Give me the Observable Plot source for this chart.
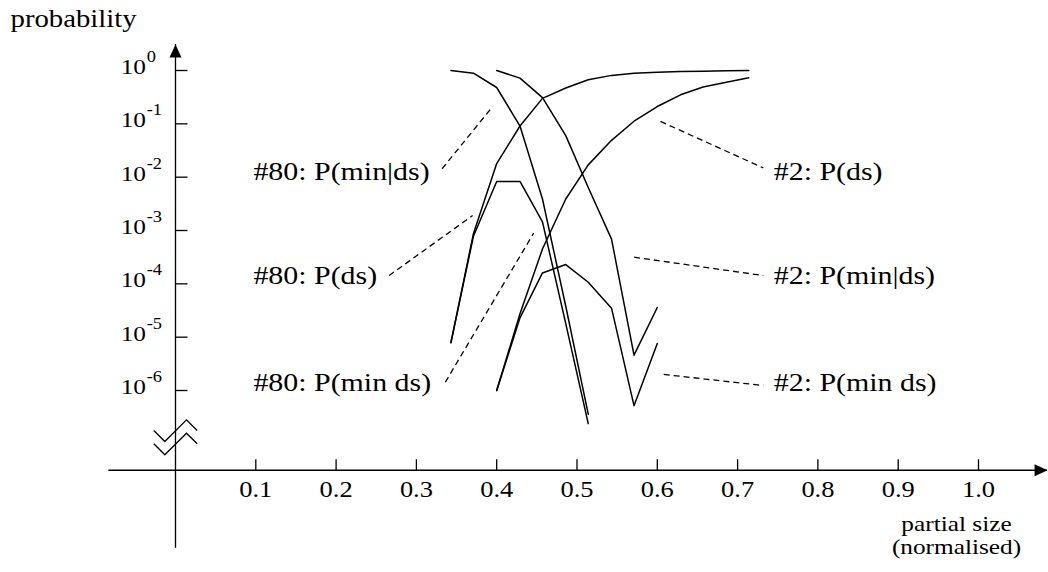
<!DOCTYPE html>
<html>
<head>
<meta charset="utf-8">
<script src="https://cdn.jsdelivr.net/npm/d3@7"></script>
<script src="https://cdn.jsdelivr.net/npm/@observablehq/plot@0.6"></script>
<style>
  html, body { margin: 0; padding: 0; background: #fff; }
  #chart svg { display: block; }
</style>
</head>
<body>
<div id="chart"></div>
<script>
// ---------- data ----------
const partialSize = [0.343, 0.371, 0.400, 0.429, 0.457, 0.486, 0.514, 0.543, 0.571, 0.600, 0.629, 0.657, 0.686, 0.714];

// run #80 (starts at partial size 0.343)
const p80_minGivenDs = [1.0, 0.89, 0.48, 0.091, 3.9e-3, 3.8e-5, 3.6e-7];
const p80_ds         = [7.9e-6, 8.7e-4, 0.018, 0.091, 0.30, 0.47, 0.67, 0.81, 0.89, 0.93, 0.955, 0.973, 0.986, 0.995];
const p80_minDs      = [7.9e-6, 7.8e-4, 8.3e-3, 8.3e-3, 1.45e-3, 1.8e-5, 2.4e-7];

// run #2 (starts at partial size 0.400)
const p2_ds          = [1.0e-6, 2.75e-5, 4.5e-4, 3.9e-3, 0.017, 0.049, 0.112, 0.211, 0.35, 0.49, 0.60, 0.73];
const p2_minGivenDs  = [1.0, 0.72, 0.31, 0.060, 6.4e-3, 6.9e-4, 4.6e-6, 3.6e-5];
const p2_minDs       = [1.0e-6, 2.3e-5, 1.6e-4, 2.3e-4, 1.07e-4, 3.5e-5, 5.2e-7, 7.6e-6];

// axis ticks
const xTicks = [0.1, 0.2, 0.3, 0.4, 0.5, 0.6, 0.7, 0.8, 0.9, 1.0];
const xTickLabels = ["0.1", "0.2", "0.3", "0.4", "0.5", "0.6", "0.7", "0.8", "0.9", "1.0"];
const yTicks = [1, 1e-1, 1e-2, 1e-3, 1e-4, 1e-5, 1e-6];
const yTickExp = ["0", "-1", "-2", "-3", "-4", "-5", "-6"];

// curve labels and their dashed leader lines (annotation anchors in data space)
const labelText = ["#80: P(min|ds)", "#80: P(ds)", "#80: P(min ds)", "#2: P(ds)", "#2: P(min|ds)", "#2: P(min ds)"];
const labelX    = [0.097, 0.097, 0.097, 0.745, 0.745, 0.745];
const labelP    = [0.0128, 1.43e-4, 1.41e-6, 0.0128, 1.43e-4, 1.41e-6];
const leaderX1  = [0.332, 0.266, 0.336, 0.604, 0.571, 0.608];
const leaderP1  = [0.0144, 1.43e-4, 1.43e-6, 0.111, 3.16e-4, 2.0e-6];
const leaderX2  = [0.395, 0.370, 0.446, 0.732, 0.732, 0.732];
const leaderP2  = [0.211, 1.91e-3, 8.9e-4, 0.0149, 1.43e-4, 1.24e-6];

// broken-axis geometry (in data units)
const axisBase = 3.2e-8;     // level where the x axis is drawn, below the break
const breakAt = 1.33e-7;     // centre of the break symbol
const xAxisFrom = -0.083, xAxisTo = 1.086;
const yAxisFrom = 1.1e-9, yAxisTo = 3.07;

// ---------- tables built from the arrays ----------
function rows(name, xs, ps) { return ps.map((p, i) => ({series: name, x: xs[i], p})); }
const table = [
  ...rows("#80: P(min|ds)", partialSize, p80_minGivenDs),
  ...rows("#80: P(ds)", partialSize, p80_ds),
  ...rows("#80: P(min ds)", partialSize, p80_minDs),
  ...rows("#2: P(ds)", partialSize.slice(2), p2_ds),
  ...rows("#2: P(min|ds)", partialSize.slice(2), p2_minGivenDs),
  ...rows("#2: P(min ds)", partialSize.slice(2), p2_minDs)
];
const labels = labelText.map((t, i) => ({
  text: t, x: labelX[i], p: labelP[i],
  x1: leaderX1[i], p1: leaderP1[i], x2: leaderX2[i], p2: leaderP2[i]
}));

// ---------- custom symbols (pixel-sized decorations) ----------
const arrowHead = {draw(ctx) { ctx.moveTo(0, 0); ctx.lineTo(-6, 13); ctx.lineTo(6, 13); ctx.closePath(); }};
const tickRight = {draw(ctx) { ctx.moveTo(0, 0); ctx.lineTo(12, 0); }};
const tickUp    = {draw(ctx) { ctx.moveTo(0, 0); ctx.lineTo(0, -11); }};
const breakMark = {draw(ctx) {
  ctx.moveTo(-21.7, -6.7); ctx.lineTo(-10.7, 4.3); ctx.lineTo(11, -17.4); ctx.lineTo(21.7, -6.7);
  ctx.moveTo(-21.7, 6.6);  ctx.lineTo(-10.7, 17.6); ctx.lineTo(11, -4);   ctx.lineTo(21.7, 6.6);
}};

const font = "'Liberation Serif', 'Times New Roman', serif";

const chart = Plot.plot({
  width: 1048,
  height: 572,
  margin: 0,
  style: {fontFamily: font, background: "white", color: "black", overflow: "visible"},
  x: {domain: [0, 1], range: [175, 978], axis: null},
  y: {type: "log", domain: [1e-6, 1], range: [390, 70], axis: null},
  marks: [
    // axes
    Plot.ruleY([axisBase], {x1: xAxisFrom, x2: xAxisTo, stroke: "black", strokeWidth: 1.3}),
    Plot.ruleX([0], {y1: yAxisFrom, y2: yAxisTo, stroke: "black", strokeWidth: 1.3}),
    Plot.dot([[0, yAxisTo]], {x: d => d[0], y: d => d[1], symbol: arrowHead, fill: "black", stroke: "none"}),
    Plot.dot([[xAxisTo, axisBase]], {x: d => d[0], y: d => d[1], symbol: arrowHead, rotate: 90, fill: "black", stroke: "none"}),
    Plot.dot([[0, breakAt]], {x: d => d[0], y: d => d[1], symbol: breakMark, fill: "none", stroke: "black", strokeWidth: 1.3}),
    // ticks
    Plot.dot(yTicks, {x: 0, y: d => d, symbol: tickRight, fill: "none", stroke: "black", strokeWidth: 1.3}),
    Plot.dot(xTicks, {x: d => d, y: axisBase, symbol: tickUp, fill: "none", stroke: "black", strokeWidth: 1.3}),
    // tick labels
    Plot.text(yTicks, {x: 0, y: d => d, text: () => "10", textAnchor: "end", dx: -29.5, dy: -3.5, fontSize: 22, fill: "black"}),
    Plot.text(yTicks, {x: 0, y: d => d, text: (d, i) => yTickExp[i], textAnchor: "start", dx: -28.8, dy: -13.5, fontSize: 16, fill: "black"}),
    Plot.text(xTicks, {x: d => d, y: axisBase, text: (d, i) => xTickLabels[i], dy: 19, fontSize: 23, fill: "black"}),
    // axis titles
    Plot.text(["probability"], {frameAnchor: "top-left", text: d => d, textAnchor: "start", dx: 10, dy: 18, lineAnchor: "middle", fontSize: 25, fill: "black"}),
    Plot.text(["partial size"], {x: 1, y: axisBase, text: d => d, dx: -22, dy: 54, fontSize: 22, fill: "black"}),
    Plot.text(["(normalised)"], {x: 1, y: axisBase, text: d => d, dx: -22, dy: 77, fontSize: 22, fill: "black"}),
    // curves
    Plot.line(table, {x: "x", y: "p", z: "series", stroke: "black", strokeWidth: 1.5}),
    // dashed leaders and labels
    Plot.link(labels, {x1: "x1", y1: "p1", x2: "x2", y2: "p2", stroke: "black", strokeWidth: 1.3, strokeDasharray: "6,4"}),
    Plot.text(labels, {x: "x", y: "p", text: "text", textAnchor: "start", fontSize: 26, fill: "black"})
  ]
});

document.getElementById("chart").appendChild(chart);

// the original lettering is slightly wide: stretch each text horizontally (positions untouched)
chart.querySelectorAll("text").forEach(t => {
  const len = t.getComputedTextLength();
  if (len > 0) {
    t.setAttribute("textLength", (len * 1.15).toFixed(2));
    t.setAttribute("lengthAdjust", "spacingAndGlyphs");
  }
});
</script>
</body>
</html>
